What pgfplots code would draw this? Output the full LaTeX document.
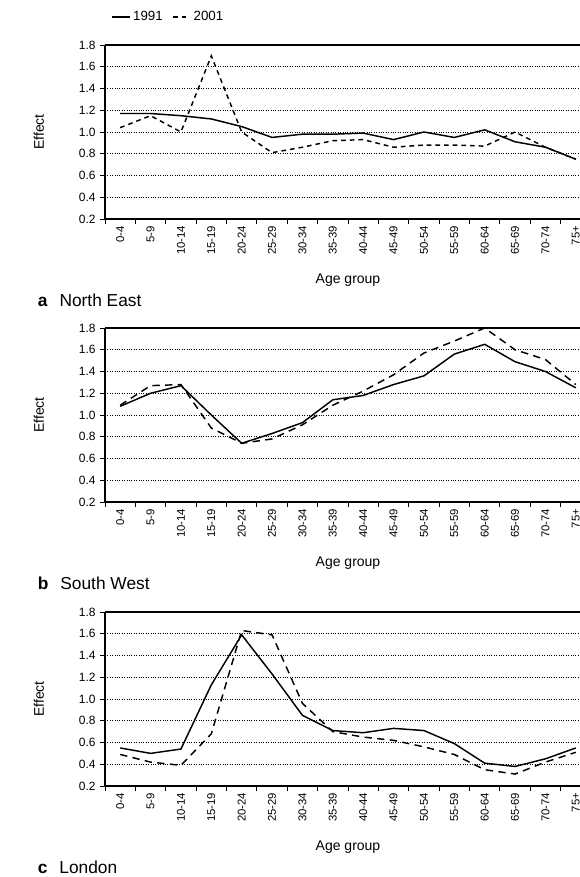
\documentclass[border=0pt]{standalone}
\usepackage{pgfplots}
\usepackage{pgfplotstable}
\pgfplotsset{compat=1.18}
\usepackage{fontspec}
\setmainfont{Liberation Sans}

\pgfplotstableread{
x  a91  a01
0  1.17 1.04
1  1.17 1.15
2  1.15 1.00
3  1.12 1.70
4  1.05 1.00
5  0.95 0.81
6  0.98 0.86
7  0.98 0.92
8  0.99 0.93
9  0.93 0.86
10 1.00 0.88
11 0.95 0.88
12 1.02 0.87
13 0.91 1.00
14 0.86 0.86
15 0.75 0.75
}\tabNE

\pgfplotstableread{
x  a91  a01
0  1.08 1.09
1  1.20 1.27
2  1.27 1.28
3  1.00 0.88
4  0.74 0.74
5  0.83 0.78
6  0.93 0.91
7  1.14 1.09
8  1.18 1.22
9  1.28 1.37
10 1.36 1.57
11 1.56 1.68
12 1.65 1.80
13 1.49 1.60
14 1.40 1.51
15 1.25 1.28
}\tabSW

\pgfplotstableread{
x  a91  a01
0  0.55 0.49
1  0.50 0.42
2  0.54 0.39
3  1.13 0.68
4  1.59 1.63
5  1.23 1.59
6  0.85 0.96
7  0.71 0.70
8  0.69 0.65
9  0.73 0.62
10 0.71 0.56
11 0.59 0.49
12 0.41 0.35
13 0.38 0.31
14 0.45 0.42
15 0.55 0.51
}\tabLO

\pgfplotsset{
  panel/.style={
    at={(78.75pt,#1)}, anchor=south west,
    width=364.5pt, height=130.5pt, scale only axis,
    xmin=-0.5, xmax=15.5, ymin=0.2, ymax=1.8,
    axis x line*=box, axis y line*=left,
    xtick pos=bottom, ytick pos=left,
    axis line style={black, line width=0.8pt},
    clip mode=individual,
    tick align=outside,
    major tick length=3.5pt, minor tick length=3.5pt,
    every tick/.style={black, line width=0.6pt},
    xtick={0,...,15},
    xticklabels={0-4,5-9,10-14,15-19,20-24,25-29,30-34,35-39,40-44,45-49,50-54,55-59,60-64,65-69,70-74,75+},
    major x tick style={draw=none},
    minor xtick={-0.5,0.5,...,15.5},
    xticklabel style={rotate=90, anchor=east, font=\fontsize{8.5}{9}\selectfont, inner sep=1.5pt},
    ytick={0.2,0.4,...,1.8},
    yticklabel style={font=\fontsize{9}{10}\selectfont, /pgf/number format/.cd, fixed, fixed zerofill, precision=1, assume math mode=true},
    ymajorgrids,
    major grid style={black, line width=0.5pt, dash pattern=on 0.5pt off 1.3pt},
    xlabel={Age group},
    xlabel style={at={(axis description cs:0.5,-0.351)}, anchor=center, font=\fontsize{10.5}{12}\selectfont},
    ylabel={Effect},
    ylabel style={at={(axis description cs:-0.136,0.5)}, anchor=center, font=\fontsize{10.5}{12}\selectfont},
  },
  s91/.style={black, line width=1.1pt, no marks},
  s01/.style={black, line width=1.1pt, no marks, dash pattern=on 5.5pt off 4pt},
}

\begin{document}
\begin{tikzpicture}
\begin{axis}[panel=-164.25pt,
  legend style={at={(axis description cs:0.005,1.161)}, anchor=west, draw=none, fill=none,
    font=\fontsize{10}{11}\selectfont, legend columns=2,
    /tikz/every even column/.append style={column sep=5pt}},
  legend image code/.code={\draw[#1] (0pt,0pt) -- (13pt,0pt);}]
\addplot[s91] table[x=x, y=a91] {\tabNE};
\addlegendentry{1991}
\addplot[s01, dash pattern=on 3.5pt off 3pt] table[x=x, y=a01] {\tabNE};
\addlegendentry{2001}
\node[anchor=west, font=\fontsize{13}{14}\selectfont] at (axis description cs:-0.148,-0.466) {\textbf{a}\hspace{9pt}North East};
\end{axis}

\begin{axis}[panel=-376.5pt]
\addplot[s91] table[x=x, y=a91] {\tabSW};
\addplot[s01] table[x=x, y=a01] {\tabSW};
\node[anchor=west, font=\fontsize{13}{14}\selectfont] at (axis description cs:-0.148,-0.466) {\textbf{b}\hspace{9pt}South West};
\end{axis}

\begin{axis}[panel=-589.5pt]
\addplot[s91] table[x=x, y=a91] {\tabLO};
\addplot[s01] table[x=x, y=a01] {\tabLO};
\node[anchor=west, font=\fontsize{13}{14}\selectfont] at (axis description cs:-0.148,-0.466) {\textbf{c}\hspace{9pt}London};
\end{axis}

\pgfresetboundingbox
\path[use as bounding box] (0pt,0pt) rectangle (434.25pt,-657.75pt);
\end{tikzpicture}
\end{document}
